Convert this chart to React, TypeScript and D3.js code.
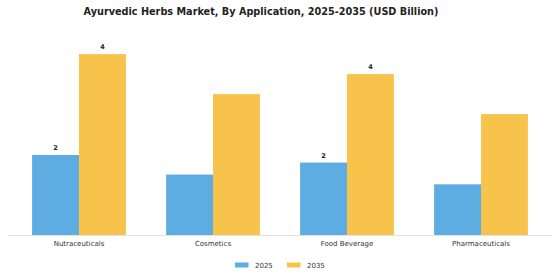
import React from "react";
import * as d3 from "d3";

const categories = ["Nutraceuticals", "Cosmetics", "Food Beverage", "Pharmaceuticals"];
const seriesNames = ["2025", "2035"];
const values2025 = [1.8, 1.36, 1.63, 1.14];
const values2035 = [4.07, 3.17, 3.62, 2.72];
// which bars carry a value label
const labeled2025 = [true, false, true, false];
const labeled2035 = [true, false, true, false];
const colors = ["#5DADE2", "#F7C34B"];

const W = 560;
const H = 280;
const FONT = "'DejaVu Sans', sans-serif";

export default function App() {
  const x = d3.scaleBand<string>().domain(categories).range([12, 548]).paddingInner(0.3).paddingOuter(0.15);
  const xs = d3.scaleBand<string>().domain(seriesNames).range([0, x.bandwidth()]);
  const y = d3.scaleLinear().domain([0, 4.5]).range([235, 35]);
  const fmt = d3.format(".0f");
  const series = [
    { name: seriesNames[0], values: values2025, labeled: labeled2025, color: colors[0] },
    { name: seriesNames[1], values: values2035, labeled: labeled2035, color: colors[1] },
  ];

  return (
    <svg width={W} height={H} style={{ position: "absolute", left: 0, top: 0, fontFamily: FONT }}>
      <rect width={W} height={H} fill="#fff" />
      <text x={261} y={14.5} textAnchor="middle" fontSize={9.7} fontWeight="bold" fill="#222">
        Ayurvedic Herbs Market, By Application, 2025-2035 (USD Billion)
      </text>
      {series.map((s) =>
        categories.map((c, i) => {
          const bx = (x(c) ?? 0) + (xs(s.name) ?? 0);
          const by = y(s.values[i]);
          return (
            <g key={s.name + c}>
              <rect x={bx} y={by} width={xs.bandwidth()} height={y(0) - by} fill={s.color} />
              {s.labeled[i] && (
                <text x={bx + xs.bandwidth() / 2} y={by - 5} textAnchor="middle" fontSize={6.5} fontWeight="bold" fill="#222">
                  {fmt(s.values[i])}
                </text>
              )}
            </g>
          );
        })
      )}
      <line x1={8} x2={552} y1={y(0) + 0.5} y2={y(0) + 0.5} stroke="#e3e3e3" strokeWidth={1} />
      {categories.map((c) => (
        <text key={c} x={(x(c) ?? 0) + x.bandwidth() / 2} y={245.5} textAnchor="middle" fontSize={7} fill="#333">
          {c}
        </text>
      ))}
      {series.map((s, i) => (
        <g key={s.name} transform={`translate(${235 + i * 52},262.5)`}>
          <rect x={0} y={0} width={13.5} height={5} fill={s.color} />
          <text x={20} y={5} fontSize={7} fill="#333">
            {s.name}
          </text>
        </g>
      ))}
    </svg>
  );
}
